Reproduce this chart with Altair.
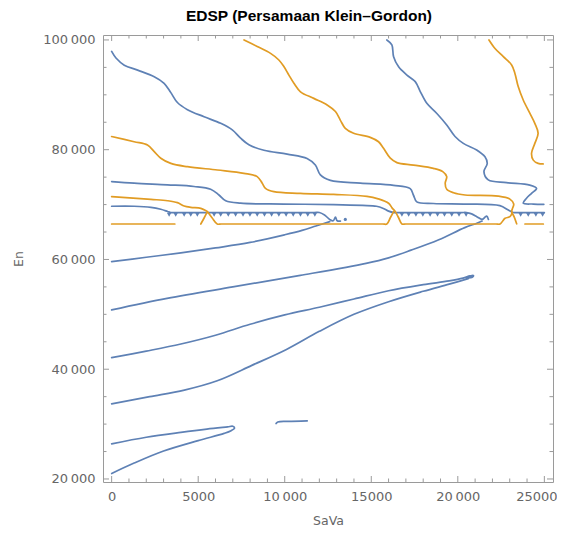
import altair as alt
import pandas as pd

BLUE = "#5E81B5"
ORANGE = "#E19C24"
FRAME = "#9a9a9a"
TEXT = "#666666"
FONT = "DejaVu Sans"

# ---- curves: (SaVa, En) points ----
b1 = [(0, 97900), (250, 96700), (730, 95400), (1500, 94500), (2460, 93300), (3030, 92100),
      (3420, 90400), (3800, 88600), (4380, 87300), (5340, 86000), (6300, 84800), (6970, 83600),
      (7450, 82100), (7930, 80900), (8800, 79900), (10140, 79200), (11290, 78400), (11770, 77200),
      (12060, 75400), (12640, 74400), (14370, 73900), (16290, 73500), (17250, 72900), (17440, 71700),
      (17630, 70500), (18590, 70200), (20510, 70100), (22430, 69800), (22920, 69000), (23200, 68550),
      (23500, 68550), (25000, 68550)]
b2 = [(0, 74200), (1300, 73900), (3220, 73600), (4760, 73300), (5720, 72800), (6200, 71750),
      (6590, 70700), (7450, 70250), (9950, 70100), (12830, 70000), (14500, 69850), (15300, 69700),
      (15700, 69300), (16000, 68800), (16300, 68550), (16600, 68550), (20200, 68550), (20500, 68550),
      (20800, 68300), (21100, 67800), (21400, 67300), (21570, 67700), (21670, 67900), (21770, 67300)]
b3 = [(0, 69700), (1300, 69700), (2270, 69500), (2840, 69150), (3230, 68750), (3420, 68550),
      (3700, 68550), (11700, 68550), (12000, 68550), (12300, 68100), (12600, 67300), (12800, 67050),
      (12930, 67700), (13030, 67050), (13220, 67000)]
b4 = [(15900, 100000), (16190, 99100), (16290, 96950), (16580, 95100), (17060, 93600), (17540, 92400),
      (17830, 90600), (18210, 88450), (18790, 86600), (19360, 84500), (19840, 82400), (20320, 81150),
      (21090, 79950), (21570, 78700), (21700, 77500), (21510, 76000), (21760, 74500), (22820, 74000),
      (24160, 73550), (24550, 72950), (24260, 72050), (23970, 71150), (23780, 70250), (24360, 70100),
      (24970, 70050)]
l1 = [(0, 59600), (2000, 60400), (4000, 61200), (6000, 62100), (8000, 63100), (10000, 64500),
      (11000, 65300), (11800, 66100), (12600, 66900)]
l2 = [(0, 50800), (3200, 52900), (7000, 55000), (10900, 57100), (14700, 59300), (16000, 60300),
      (17300, 61700), (18900, 63600), (20400, 65800), (21100, 66600), (21400, 67000)]
l3 = [(0, 42100), (2000, 43300), (4000, 44600), (6000, 46200), (8000, 48200), (10000, 49900),
      (12000, 51300), (14000, 52800), (16000, 54300), (18000, 55400), (19500, 56100), (20300, 56600),
      (20700, 57000), (20900, 57100), (20850, 56800), (20500, 56600)]
l4 = [(0, 33700), (2200, 35000), (4200, 36200), (6100, 37900), (8100, 40700), (10100, 43600),
      (12000, 46900), (14000, 50000), (16000, 52300), (18000, 54200), (19500, 55500), (20600, 56500)]
l5 = [(0, 26400), (2000, 27600), (4000, 28500), (5500, 29100), (6700, 29500), (7000, 29600),
      (7100, 29300), (6900, 28800), (6500, 28300), (5000, 27000), (3000, 25100), (1300, 22900),
      (0, 21000)]
l6 = [(9500, 30100), (9600, 30400), (10200, 30500), (11300, 30600)]

o1 = [(7650, 100000), (8410, 98800), (9180, 97550), (9660, 96350), (9950, 95150), (10240, 93600),
      (10530, 92100), (10910, 90550), (11680, 89350), (12450, 88150), (12930, 86950), (13210, 85400),
      (13500, 83900), (13980, 83000), (14940, 82250), (15420, 81450), (15710, 80250), (16100, 78450),
      (16480, 77650), (17440, 77200), (18590, 76600), (19130, 76000), (19360, 75100), (19270, 73900),
      (19360, 72800), (19750, 72150), (20420, 71750), (22340, 71550), (23010, 71000), (23230, 70100),
      (23150, 69200), (23110, 68700), (23250, 67800), (23400, 66500)]
o2 = [(0, 82400), (1300, 81450), (2070, 80850), (2460, 79650), (2840, 78450), (3420, 77500),
      (4380, 76900), (6110, 76300), (7640, 75700), (8410, 75100), (8700, 73900), (8890, 72950),
      (9370, 72350), (10910, 72050), (12830, 71850), (14750, 71500), (15400, 71050), (16000, 70250),
      (16200, 69400), (16390, 68700), (16580, 67600), (16770, 66460), (17000, 66460), (22200, 66460),
      (22440, 66460), (22730, 67500), (23010, 67800), (23150, 68550)]
o3 = [(0, 71450), (2270, 70950), (3230, 70700), (3800, 70350), (4190, 69750), (4570, 69500),
      (5150, 69300), (5430, 68900), (5530, 68700), (5800, 67600), (6100, 66460), (6350, 66460),
      (15650, 66460), (15900, 66460), (16100, 67600), (16290, 68700)]
o4 = [(21800, 100000), (22150, 98450), (22630, 96950), (23110, 95450), (23300, 93900), (23490, 91500),
      (23780, 89050), (24160, 86650), (24450, 84800), (24640, 83000), (24450, 81150), (24260, 79350),
      (24360, 78100), (24640, 77500), (24930, 77400)]
o5 = [(0, 66460), (3650, 66460)]
o6 = [(5150, 66460), (5350, 67600), (5530, 68700)]
o7 = [(23880, 66460), (24940, 66460)]

teeth_x = [3320, 3700, 4190, 4570, 4950, 5920, 6300, 6740, 7160, 7590, 7990, 8410, 8830, 9240,
           9660, 10080, 10490, 10910, 11330, 11740, 16770, 17160, 17580, 17980, 18400, 18830,
           19230, 19650, 20070, 20480, 23630, 24070, 24510, 24900]
teeth_y = 68150
dot_pts = [(13500, 67300)]

x_major = [0, 5000, 10000, 15000, 20000, 25000]
x_minor = [1000, 2000, 3000, 4000, 6000, 7000, 8000, 9000, 11000, 12000, 13000, 14000,
           16000, 17000, 18000, 19000, 21000, 22000, 23000, 24000]
y_major = [20000, 40000, 60000, 80000, 100000]
y_minor = [25000, 30000, 35000, 45000, 50000, 55000, 65000, 70000, 75000, 85000, 90000, 95000]

curves = [("b1", "blue", b1), ("b2", "blue", b2), ("b3", "blue", b3), ("b4", "blue", b4),
          ("l1", "blue", l1), ("l2", "blue", l2), ("l3", "blue", l3), ("l4", "blue", l4),
          ("l5", "blue", l5), ("l6", "blue", l6),
          ("o1", "orange", o1), ("o2", "orange", o2), ("o3", "orange", o3), ("o4", "orange", o4),
          ("o5", "orange", o5), ("o6", "orange", o6), ("o7", "orange", o7)]

rows = []
for name, kind, pts in curves:
    for i, (x, y) in enumerate(pts):
        rows.append({"series": name, "kind": kind, "i": i, "x": x, "y": y})
df = pd.DataFrame(rows)

W, H = 450, 447
xs = alt.Scale(domain=[-500, 25500], nice=False, zero=False)
ys = alt.Scale(domain=[19450, 100900], nice=False, zero=False)

x_label_expr = ("datum.value == 10000 ? '10\u2009000' : datum.value == 20000 ? '20\u2009000' : "
                "format(datum.value, 'd')")
y_label_expr = "replace(format(datum.value, ','), ',', '\u2009')"

xaxis = alt.Axis(title="SaVa", values=x_major, labelExpr=x_label_expr, ticks=False, domain=False,
                 grid=False, labelPadding=8, labelFont=FONT, labelFontSize=13, labelColor=TEXT,
                 labelOffset={"condition": {"test": "datum.value == 25000", "value": -8}, "value": 0},
                 titleFont=FONT, titleFontSize=12.5, titleColor=TEXT, titleFontWeight="normal",
                 titleY=38, titleBaseline="middle")
yaxis = alt.Axis(title="En", values=y_major, labelExpr=y_label_expr, ticks=False, domain=False,
                 grid=False, labelPadding=8, labelFont=FONT, labelFontSize=13, labelColor=TEXT,
                 titleFont=FONT, titleFontSize=12.5, titleColor=TEXT, titleFontWeight="normal",
                 titleX=-85, titleY=H / 2, titleAngle=270, titleBaseline="middle", titleAlign="center")

X_ENC = lambda f: alt.X(f, scale=xs, axis=xaxis)
Y_ENC = lambda f: alt.Y(f, scale=ys, axis=yaxis)

lines = alt.Chart(df).mark_line(strokeWidth=1.7, clip=True, strokeJoin="round", strokeCap="round",
                                interpolate="catmull-rom").encode(
    x=X_ENC("x:Q"),
    y=Y_ENC("y:Q"),
    color=alt.Color("kind:N", scale=alt.Scale(domain=["blue", "orange"], range=[BLUE, ORANGE]), legend=None),
    detail="series:N",
    order="i:Q",
)

teeth = alt.Chart(pd.DataFrame({"x": teeth_x, "y": [teeth_y] * len(teeth_x)})).mark_point(
    shape="triangle-down", filled=True, size=20, color=BLUE, opacity=1, strokeWidth=0).encode(
    x=X_ENC("x:Q"), y=Y_ENC("y:Q"))

dot = alt.Chart(pd.DataFrame({"x": [p[0] for p in dot_pts], "y": [p[1] for p in dot_pts]})).mark_circle(
    size=10, color=BLUE, opacity=1).encode(x=X_ENC("x:Q"), y=Y_ENC("y:Q"))


def yticks(vals, length):
    d = pd.DataFrame({"v": vals})
    left = alt.Chart(d).mark_rule(color=FRAME, strokeWidth=1).encode(
        y=Y_ENC("v:Q"), x=alt.value(0), x2=alt.value(length))
    right = alt.Chart(d).mark_rule(color=FRAME, strokeWidth=1).encode(
        y=Y_ENC("v:Q"), x=alt.value(W - length), x2=alt.value(W))
    return [left, right]


def xticks(vals, length):
    d = pd.DataFrame({"v": vals})
    bottom = alt.Chart(d).mark_rule(color=FRAME, strokeWidth=1).encode(
        x=X_ENC("v:Q"), y=alt.value(H - length), y2=alt.value(H))
    top = alt.Chart(d).mark_rule(color=FRAME, strokeWidth=1).encode(
        x=X_ENC("v:Q"), y=alt.value(0), y2=alt.value(length))
    return [bottom, top]


tick_layers = yticks(y_major, 6) + yticks(y_minor, 3.5) + xticks(x_major, 6) + xticks(x_minor, 3.5)

chart = alt.layer(lines, teeth, dot, *tick_layers).properties(
    width=W, height=H,
    autosize=alt.AutoSizeParams(type="none"),
    padding={"left": 95, "top": 27, "right": 4, "bottom": 44},
    title=alt.TitleParams("EDSP (Persamaan Klein\u2013Gordon)", fontSize=15.5, fontWeight="bold",
                          font="Liberation Sans", color="black", anchor="middle", frame="group",
                          dx=-19, offset=9),
).configure_view(stroke=FRAME, strokeWidth=1)

chart.save("out.html", embed_options={"renderer": "svg", "actions": False})
